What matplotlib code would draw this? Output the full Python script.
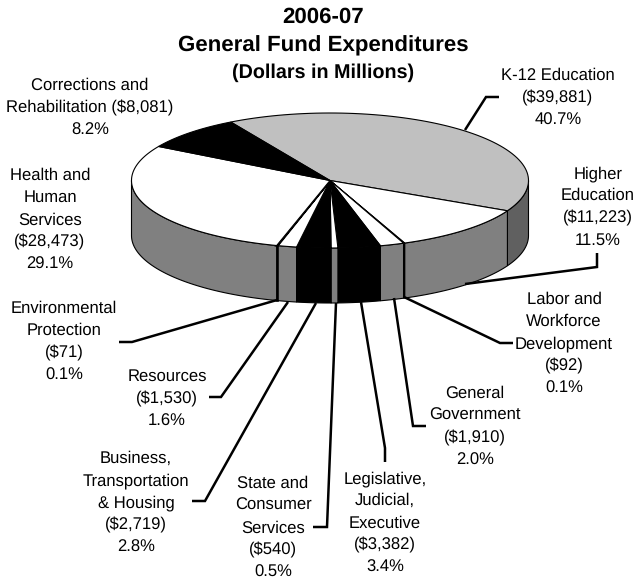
import numpy as np
import matplotlib
matplotlib.use("Agg")
import matplotlib.pyplot as plt
from matplotlib.patches import Polygon

plt.rcParams['font.family'] = ['Liberation Sans', 'DejaVu Sans']
plt.rcParams['text.hinting'] = 'no_hinting'

# clockwise from K-12
categories = ["K-12", "Higher Ed", "Labor", "General Gov", "Legislative", "State Consumer",
              "Business", "Resources", "Environmental", "Health", "Corrections"]
values = [39881, 11223, 92, 1910, 3382, 540, 2719, 1530, 71, 28473, 8081]
top_colors = ["#C0C0C0", "white", "white", "white", "black", "white",
              "black", "white", "white", "white", "black"]
side_colors = ["#606060", "#808080", "#808080", "#808080", "black", "#808080",
               "black", "#808080", "#808080", "#808080", "black"]
edge_widths = [1, 1, 1, 1, 1, 1, 1, 1, 2.2, 1, 1]

# pie geometry in pixels
cx, cy = 330, 180.5
rx, ry = 198.5, 67.5
depth = 55
start = 120

# text, x, y of first line
labels = [
    (["Corrections and", "Rehabilitation ($8,081)", "8.2%"], 90, 84),
    (["K-12 Education", "($39,881)", "40.7%"], 558, 74),
    (["Higher", "Education", "($11,223)", "11.5%"], 598, 172),
    (["Health and", "Human", "Services", "($28,473)", "29.1%"], 50, 174),
    (["Environmental", "Protection", "($71)", "0.1%"], 64, 307),
    (["Resources", "($1,530)", "1.6%"], 167, 375),
    (["Business,", "Transportation", "& Housing", "($2,719)", "2.8%"], 136, 457),
    (["State and", "Consumer", "Services", "($540)", "0.5%"], 273, 482),
    (["Legislative,", "Judicial,", "Executive", "($3,382)", "3.4%"], 385, 477),
    (["General", "Government", "($1,910)", "2.0%"], 475, 392),
    (["Labor and", "Workforce", "Development", "($92)", "0.1%"], 564, 298),
]

# leader lines
leaders = [
    [(465, 130), (486, 97), (499, 97)],
    [(465, 284), (597, 267), (597, 253)],
    [(404, 297), (500, 343), (513, 343)],
    [(394, 298), (413, 426), (426, 426)],
    [(361, 302), (385, 448), (385, 462)],
    [(336, 303), (327, 527), (313, 527)],
    [(316, 303), (205, 501), (192, 501)],
    [(288, 302), (221, 397), (209, 397)],
    [(277, 300), (132, 342), (119, 342)],
]

fig = plt.figure(figsize=(6.38, 5.8), dpi=100)
ax = fig.add_axes([0, 0, 1, 1])
ax.set_xlim(0, 638)
ax.set_ylim(580, 0)
ax.axis("off")


def rim(a, b, n=80):
    t = np.radians(np.linspace(a, b, n))
    return cx + rx * np.cos(t), cy - ry * np.sin(t)


shares = np.array(values) / sum(values)
angles = start - np.concatenate([[0], np.cumsum(shares)]) * 360

# sides first, only the front half shows
for i in range(len(values)):
    a = min(angles[i], 0)
    b = max(angles[i + 1], -180)
    if a <= b:
        continue
    x, y = rim(a, b)
    pts = list(zip(x, y)) + list(zip(x[::-1], y[::-1] + depth))
    ax.add_patch(Polygon(pts, closed=True, fc=side_colors[i], ec="black",
                         lw=edge_widths[i] * 0.8, joinstyle="miter", zorder=2))

# top face
for i in range(len(values)):
    x, y = rim(angles[i], angles[i + 1])
    pts = [(cx, cy)] + list(zip(x, y))
    ax.add_patch(Polygon(pts, closed=True, fc=top_colors[i], ec="black",
                         lw=edge_widths[i] * 0.8, joinstyle="miter", zorder=3))

for line in leaders:
    ax.plot([p[0] for p in line], [p[1] for p in line], color="black", lw=1.8,
            solid_joinstyle="miter", solid_capstyle="butt", zorder=4)

# baseline placement keeps the line spacing even
for lines, x, y in labels:
    for j, s in enumerate(lines):
        ax.text(x, y + j * 22.3 + 6, s, ha="center", va="baseline", fontsize=12, color="black")

ax.text(323, 23, "2006-07", ha="center", va="baseline", fontsize=16, fontweight="bold")
ax.text(323, 51, "General Fund Expenditures", ha="center", va="baseline", fontsize=16, fontweight="bold")
ax.text(323, 78, "(Dollars in Millions)", ha="center", va="baseline", fontsize=14.2, fontweight="bold")

fig.savefig("out.png", dpi=100)
